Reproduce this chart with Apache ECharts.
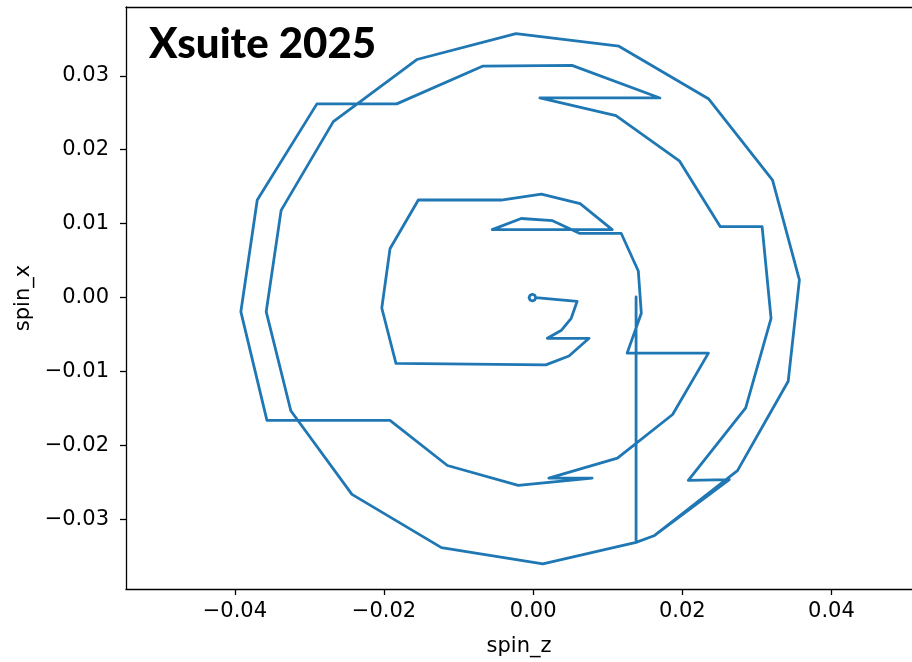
<!DOCTYPE html>
<html>
<head>
<meta charset="utf-8">
<script src="https://cdn.jsdelivr.net/npm/echarts@6/dist/echarts.min.js"></script>
<style>
  html, body { margin: 0; padding: 0; background: #ffffff; }
  #chart { width: 912px; height: 662px; }
</style>
</head>
<body>
<div id="chart"></div>
<script>
// Spin trajectory: spin_z (horizontal) against spin_x (vertical), in tracking order
const spinZ = [
  0.00035, 0.00021, -0.0001, -0.00042, -0.00055, -0.00042, -0.0001, 0.00021, 0.00035,
  0.0059, 0.0051, 0.0038, 0.0019, 0.0075, 0.0048, 0.0017,
  -0.0184, -0.0203, -0.0192, -0.0154, -0.0043, 0.0011, 0.0063, 0.0106,
  -0.0055, -0.0016, 0.0026, 0.0062, 0.0118, 0.0141, 0.0145, 0.0126,
  0.0235, 0.0187, 0.0113, 0.0021, 0.0079, -0.0020, -0.0115, -0.0192,
  -0.0357, -0.0392, -0.0370, -0.0290, -0.0183, -0.0068, 0.0052, 0.0170,
  0.0009, 0.0111, 0.0196, 0.0251, 0.0307, 0.0319, 0.0285, 0.0208,
  0.0263, 0.0162, 0.0138, 0.0013, -0.0123, -0.0243, -0.0325, -0.0358,
  -0.0338, -0.0268, -0.0156, -0.0023, 0.0115, 0.0235, 0.0321, 0.0357,
  0.0342, 0.0274, 0.0162, 0.0138, 0.0138
];
const spinX = [
  0.0000, 0.00032, 0.00045, 0.00032, 0.0000, -0.00032, -0.00045, -0.00032, 0.0000,
  -0.0005, -0.0028, -0.0044, -0.0055, -0.0055, -0.0079, -0.0091,
  -0.0089, -0.0014, 0.0066, 0.0132, 0.0132, 0.0140, 0.0127, 0.0092,
  0.0092, 0.0107, 0.0104, 0.0087, 0.0087, 0.0036, -0.0021, -0.0075,
  -0.0075, -0.0158, -0.0217, -0.0244, -0.0244, -0.0254, -0.0227, -0.0166,
  -0.0166, -0.0019, 0.0132, 0.0262, 0.0262, 0.0313, 0.0314, 0.0270,
  0.0270, 0.0246, 0.0185, 0.0096, 0.0096, -0.0028, -0.0149, -0.0247,
  -0.0246, -0.0322, -0.0331, -0.0360, -0.0338, -0.0266, -0.0153, -0.0019,
  0.0118, 0.0238, 0.0322, 0.0357, 0.0340, 0.0269, 0.0159, 0.0024,
  -0.0113, -0.0234, -0.0322, -0.0331, 0.0001
];

const xTicks = [-0.04, -0.02, 0.00, 0.02, 0.04];
const yTicks = [-0.03, -0.02, -0.01, 0.00, 0.01, 0.02, 0.03];

const points = spinZ.map((z, i) => [z, spinX[i]]);

const fmt = v => {
  const s = Math.abs(v).toFixed(2);
  return (v < -1e-9 ? '\u2212' : '') + s;
};

const tickFont = { fontFamily: 'DejaVu Sans', fontSize: 21, color: '#000000' };
const nameFont = { fontFamily: 'DejaVu Sans', fontSize: 21, color: '#000000' };

const chart = echarts.init(document.getElementById('chart'), null, { renderer: 'canvas' });
chart.setOption({
  animation: false,
  backgroundColor: '#ffffff',
  grid: { left: 126, top: 7, right: 0, bottom: 69, containLabel: false },
  title: {
    text: 'Xsuite 2025',
    left: 144, top: 18,
    textStyle: { fontFamily: 'Lato', fontWeight: 900, fontSize: 42, color: '#000000' }
  },
  xAxis: [{
    type: 'value', min: -0.0546, max: 0.0508, position: 'bottom',
    name: 'spin_z', nameLocation: 'middle', nameGap: 47,
    nameTextStyle: nameFont,
    splitLine: { show: false },
    axisLine: { show: true, onZero: false, lineStyle: { color: '#000000', width: 1.3 } },
    axisTick: { show: true, length: 6, customValues: xTicks, lineStyle: { color: '#000000', width: 1.3 } },
    axisLabel: { customValues: xTicks, margin: 12, formatter: fmt, ...tickFont }
  }, {
    type: 'value', min: -0.0546, max: 0.0508, position: 'top',
    splitLine: { show: false },
    axisLine: { show: true, onZero: false, lineStyle: { color: '#000000', width: 1.3 } },
    axisTick: { show: false }, axisLabel: { show: false }
  }],
  yAxis: {
    type: 'value', min: -0.0394, max: 0.0393,
    name: 'spin_x', nameLocation: 'middle', nameGap: 91, nameRotate: 90,
    nameTextStyle: nameFont,
    splitLine: { show: false },
    axisLine: { show: true, onZero: false, lineStyle: { color: '#000000', width: 1.3 } },
    axisTick: { show: true, length: 6, customValues: yTicks, lineStyle: { color: '#000000', width: 1.3 } },
    axisLabel: { customValues: yTicks, margin: 17, formatter: fmt, ...tickFont }
  },
  series: [{
    type: 'line',
    xAxisIndex: 0,
    data: points,
    showSymbol: false,
    symbol: 'none',
    clip: true,
    lineStyle: { color: '#1f77b4', width: 2.8, join: 'round', cap: 'round' }
  }]
});
</script>
</body>
</html>
